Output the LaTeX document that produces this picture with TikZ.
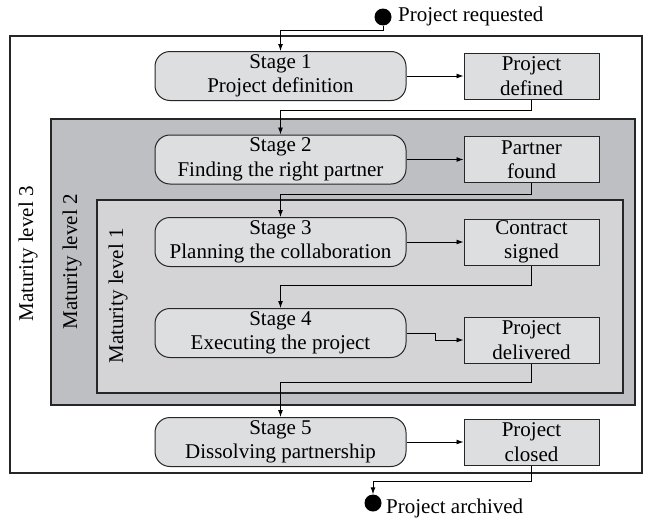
\documentclass[tikz,border=0pt]{standalone}
\usepackage{fontspec}
\setmainfont{Liberation Serif}
\usetikzlibrary{arrows.meta}
\definecolor{lvltwo}{RGB}{190,191,195}
\definecolor{lvlone}{RGB}{212,212,215}
\definecolor{nodefill}{RGB}{221,222,224}
\begin{document}
\begin{tikzpicture}[x=1pt,y=-1pt,
  font=\fontsize{21}{24.5}\selectfont,
  stagebox/.style={draw=black!85,line width=1pt,fill=nodefill,rounded corners=15pt,
    minimum width=251pt,minimum height=49pt,inner sep=0pt,align=center},
  statebox/.style={draw=black!85,line width=1pt,fill=nodefill,
    minimum width=135pt,minimum height=46pt,inner sep=0pt,align=center},
  level/.style={draw=black!85,line width=1.2pt},
  conn/.style={line width=0.9pt,-{Latex[length=7pt,width=5pt]}},
  dot/.style={circle,fill=black,minimum size=17pt,inner sep=0pt}]
\useasboundingbox (0,0) rectangle (648,522);
% maturity levels
\draw[level,fill=white] (10,36) rectangle (642,473);
\draw[level,fill=lvltwo] (51,119) rectangle (635,405);
\draw[level,fill=lvlone] (97,200) rectangle (623,393);
\node[rotate=90] (m3) at (28,254) {Maturity level 3};
\node[rotate=90] (m2) at (72,262) {Maturity level 2};
\node[rotate=90] (m1) at (118,296) {Maturity level 1};
% start / end
\node[dot] (start) at (383,17) {};
\node[anchor=west,inner sep=0pt] (startlbl) at (398,16) {Project requested};
\node[dot] (end) at (373,503) {};
\node[anchor=west,inner sep=0pt] (endlbl) at (386,508) {Project archived};
% stages
\node[stagebox] (s1) at (280.5,76) {Stage 1\\Project definition};
\node[stagebox] (s2) at (280.5,159.5) {Stage 2\\Finding the right partner};
\node[stagebox] (s3) at (280.5,242) {Stage 3\\Planning the collaboration};
\node[stagebox] (s4) at (280.5,333) {Stage 4\\Executing the project};
\node[stagebox] (s5) at (280.5,442) {Stage 5\\Dissolving partnership};
% states
\node[statebox] (r1) at (531.5,76) {Project\\defined};
\node[statebox] (r2) at (531.5,159.5) {Partner\\found};
\node[statebox] (r3) at (531.5,242) {Contract\\signed};
\node[statebox] (r4) at (531.5,340) {Project\\delivered};
\node[statebox] (r5) at (531.5,442) {Project\\closed};
% connectors
\draw[conn] (start.south) -- ++(0,5) -| (s1.north);
\draw[conn] (s1.east) -- (r1.west);
\draw[conn] (r1.south) -- ++(0,11) -| (s2.north);
\draw[conn] (s2.east) -- (r2.west);
\draw[conn] (r2.south) -- ++(0,11) -| (s3.north);
\draw[conn] (s3.east) -- (r3.west);
\draw[conn] (r3.south) -- ++(0,20) -| (s4.north);
\draw[conn] (s4.east) -- ++(29,0) |- (r4.west);
\draw[conn] (r4.south) -- ++(0,19) -| (s5.north);
\draw[conn] (s5.east) -- (r5.west);
\draw[conn] (r5.south) -- ++(0,16) -| (end.north);
\end{tikzpicture}
\end{document}
